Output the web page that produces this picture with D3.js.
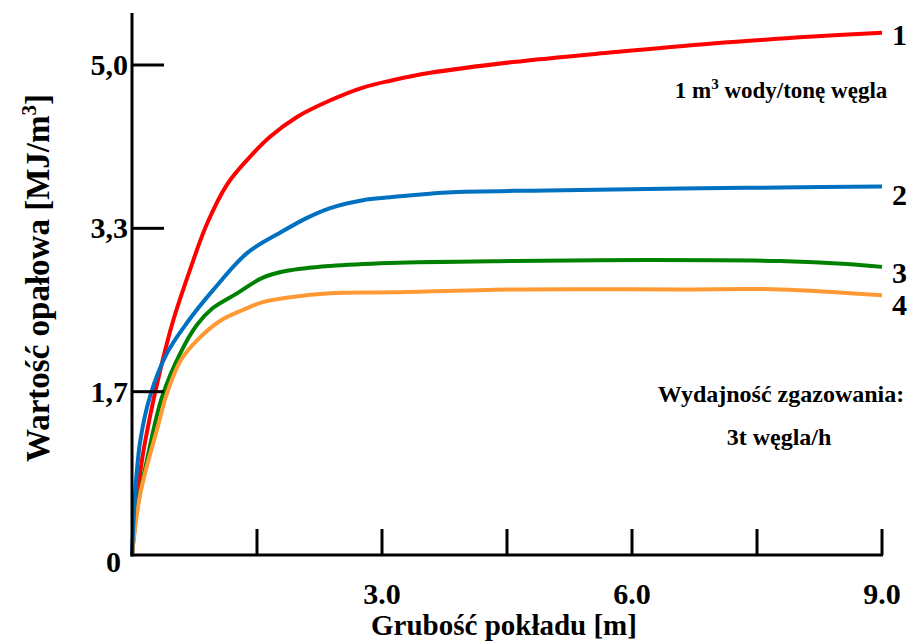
<!DOCTYPE html>
<html>
<head>
<meta charset="utf-8">
<script src="https://cdn.jsdelivr.net/npm/d3@7"></script>
<style>
  body { margin: 0; background: #fff; }
  text { font-family: "Liberation Serif", "Times New Roman", serif; font-weight: bold; fill: #000; }
</style>
</head>
<body>
<div id="vis"></div>
<script>
var width = 912;
var height = 644;

// grubość pokładu [m] / wartość opałowa [MJ/m3]
var thickness1 = [0, 0.05, 0.12, 0.22, 0.34, 0.49, 0.7, 0.9, 1.14, 1.38, 1.66, 1.98, 2.38, 2.77, 3.1, 3.58, 4.57, 5.77, 6.97, 8.17, 9.0];
var value1 = [0, 0.46, 0.97, 1.43, 1.89, 2.38, 2.92, 3.38, 3.78, 4.03, 4.27, 4.47, 4.64, 4.77, 4.84, 4.92, 5.03, 5.13, 5.22, 5.29, 5.33];

var thickness2 = [0, 0.04, 0.1, 0.22, 0.42, 0.66, 0.97, 1.38, 1.78, 2.1, 2.38, 2.77, 3.1, 3.78, 4.98, 6.58, 7.78, 9.0];
var value2 = [0, 0.66, 1.17, 1.63, 2.06, 2.37, 2.7, 3.08, 3.29, 3.44, 3.54, 3.62, 3.65, 3.7, 3.72, 3.74, 3.75, 3.76];

var thickness3 = [0, 0.06, 0.18, 0.36, 0.58, 0.78, 0.97, 1.26, 1.57, 1.86, 2.38, 3.1, 4.57, 6.18, 7.78, 8.58, 9.0];
var value3 = [0, 0.46, 0.97, 1.61, 2.06, 2.35, 2.52, 2.67, 2.83, 2.9, 2.95, 2.98, 3.0, 3.01, 3.0, 2.97, 2.94];

var thickness4 = [0, 0.1, 0.31, 0.42, 0.58, 0.78, 1.06, 1.33, 1.57, 1.9, 2.38, 3.1, 4.57, 6.58, 7.78, 9.0];
var value4 = [0, 0.63, 1.31, 1.65, 1.98, 2.19, 2.39, 2.5, 2.58, 2.63, 2.67, 2.68, 2.71, 2.71, 2.71, 2.65];

var seriesNames = ['1', '2', '3', '4'];
var seriesColors = ['#ff0000', '#0070c0', '#008000', '#ff9933'];

var yTicks = [0, 5 / 3, 10 / 3, 5];
var yTickLabels = ['0', '1,7', '3,3', '5,0'];
var xTicks = [1.5, 3, 4.5, 6, 7.5, 9];
var xTickLabels = ['3.0', '6.0', '9.0'];

var series = [
  { name: seriesNames[0], color: seriesColors[0], xs: thickness1, ys: value1 },
  { name: seriesNames[1], color: seriesColors[1], xs: thickness2, ys: value2 },
  { name: seriesNames[2], color: seriesColors[2], xs: thickness3, ys: value3 },
  { name: seriesNames[3], color: seriesColors[3], xs: thickness4, ys: value4 }
];

var x = d3.scaleLinear().domain([0, 9]).range([132, 882]);
var y = d3.scaleLinear().domain([0, 5]).range([555, 65]);

var svg = d3.select('#vis').append('svg')
  .attr('width', width)
  .attr('height', height);

// curves
var line = d3.line()
  .x(function (d) { return x(d[0]); })
  .y(function (d) { return y(d[1]); })
  .curve(d3.curveCatmullRom.alpha(0.5));

var drawOrder = [0, 2, 3, 1];
drawOrder.forEach(function (i) {
  var s = series[i];
  var pts = s.xs.map(function (v, j) { return [v, s.ys[j]]; });
  svg.append('path')
    .attr('d', line(pts))
    .attr('fill', 'none')
    .attr('stroke', s.color)
    .attr('stroke-width', 4)
    .attr('stroke-linejoin', 'round');
});

// axes
svg.append('line')
  .attr('x1', x(0)).attr('x2', x(0))
  .attr('y1', 13).attr('y2', y(0) + 1.5)
  .attr('stroke', '#000').attr('stroke-width', 3);

svg.append('line')
  .attr('x1', x(0) - 1.5).attr('x2', x(9) + 1)
  .attr('y1', y(0)).attr('y2', y(0))
  .attr('stroke', '#000').attr('stroke-width', 3);

svg.selectAll('.ytick')
  .data(yTicks.slice(1))
  .enter().append('line')
  .attr('class', 'ytick')
  .attr('x1', x(0)).attr('x2', x(0) + 32)
  .attr('y1', function (d) { return y(d); })
  .attr('y2', function (d) { return y(d); })
  .attr('stroke', '#000').attr('stroke-width', 3);

svg.selectAll('.ylab')
  .data(yTicks)
  .enter().append('text')
  .attr('class', 'ylab')
  .attr('x', function (d, i) { return i === 0 ? 121 : 128; })
  .attr('y', function (d, i) { return y(d) + (i === 0 ? 17 : 10); })
  .attr('text-anchor', 'end')
  .style('font-size', '30px')
  .text(function (d, i) { return yTickLabels[i]; });

svg.selectAll('.xtick')
  .data(xTicks)
  .enter().append('line')
  .attr('class', 'xtick')
  .attr('x1', function (d) { return x(d); })
  .attr('x2', function (d) { return x(d); })
  .attr('y1', y(0)).attr('y2', y(0) - 26)
  .attr('stroke', '#000').attr('stroke-width', 3);

svg.selectAll('.xlab')
  .data(xTicks.filter(function (d) { return d % 3 === 0; }))
  .enter().append('text')
  .attr('class', 'xlab')
  .attr('x', function (d) { return x(d); })
  .attr('y', 604)
  .attr('text-anchor', 'middle')
  .style('font-size', '30px')
  .text(function (d, i) { return xTickLabels[i]; });

// axis titles
svg.append('text')
  .attr('x', 504)
  .attr('y', 635)
  .attr('text-anchor', 'middle')
  .style('font-size', '29px')
  .text('Grubość pokładu [m]');

var yTitle = svg.append('text')
  .attr('transform', 'translate(49,' + 278 + ') rotate(-90)')
  .attr('text-anchor', 'middle')
  .style('font-size', '33px');
yTitle.append('tspan').text('Wartość opałowa  [MJ/m');
yTitle.append('tspan').attr('dy', -13).style('font-size', '21px').text('3');
yTitle.append('tspan').attr('dy', 13).text(']');

// curve labels
var labelY = [45, 205, 283, 315];
svg.selectAll('.clab')
  .data(series)
  .enter().append('text')
  .attr('class', 'clab')
  .attr('x', 892)
  .attr('y', function (d, i) { return labelY[i]; })
  .style('font-size', '30px')
  .text(function (d) { return d.name; });

// notes
var note1 = svg.append('text')
  .attr('x', 781)
  .attr('y', 98)
  .attr('text-anchor', 'middle')
  .style('font-size', '23px');
note1.append('tspan').text('1 m');
note1.append('tspan').attr('dy', -9).style('font-size', '15px').text('3');
note1.append('tspan').attr('dy', 9).text(' wody/tonę węgla');

svg.append('text')
  .attr('x', 781)
  .attr('y', 402)
  .attr('text-anchor', 'middle')
  .style('font-size', '24px')
  .text('Wydajność zgazowania:');

svg.append('text')
  .attr('x', 779)
  .attr('y', 445)
  .attr('text-anchor', 'middle')
  .style('font-size', '24px')
  .text('3t węgla/h');
</script>
</body>
</html>
